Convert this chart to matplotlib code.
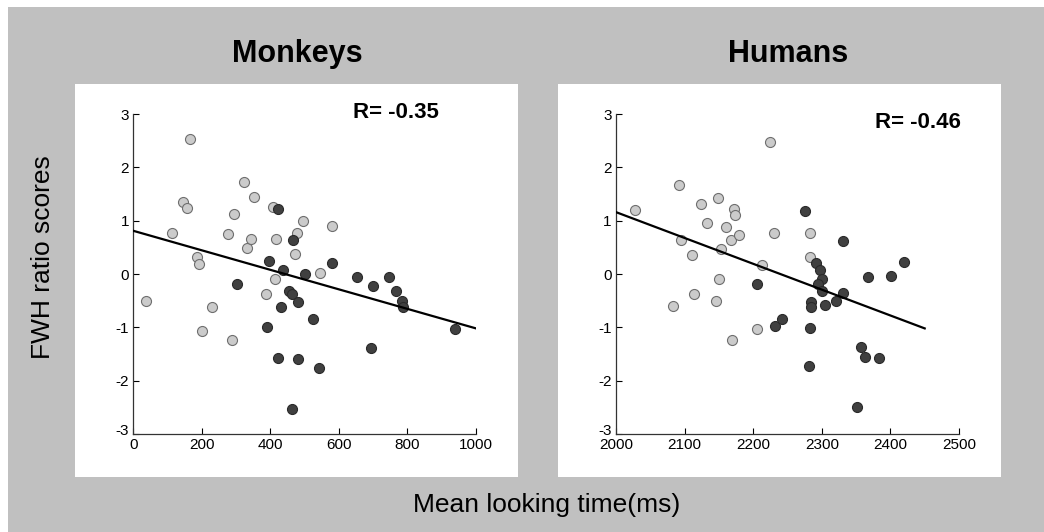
import matplotlib
matplotlib.use("Agg")
import matplotlib.pyplot as plt
from matplotlib.patches import Rectangle
import matplotlib.transforms as mtransforms
import numpy as np

plt.rcParams['font.family'] = ['Liberation Sans', 'DejaVu Sans']
plt.rcParams['axes.unicode_minus'] = False

# ---------------- data ----------------
monkey_light_x = [36, 112, 144, 156, 166, 186, 193, 200, 231, 277, 289, 293, 322, 332, 343,
                  351, 386, 408, 413, 417, 473, 477, 495, 546, 581]
monkey_light_y = [-0.51, 0.77, 1.35, 1.24, 2.54, 0.32, 0.18, -1.06, -0.62, 0.75, -1.24, 1.12,
                  1.72, 0.48, 0.65, 1.45, -0.38, 1.25, -0.09, 0.65, 0.37, 0.77, 1.00, 0.02, 0.90]
monkey_dark_x = [304, 390, 396, 421, 422, 431, 438, 455, 463, 467, 462, 480, 482, 500, 524,
                 541, 581, 653, 693, 700, 747, 767, 784, 786, 939]
monkey_dark_y = [-0.18, -0.99, 0.25, 1.22, -1.57, -0.62, 0.07, -0.31, -0.37, 0.63, -2.53, -0.53,
                 -1.60, 0.00, -0.85, -1.76, 0.21, -0.05, -1.38, -0.22, -0.06, -0.31, -0.51, -0.61,
                 -1.03]
monkey_fit_x = [0, 1000]
monkey_fit_y = [0.81, -1.02]
monkey_r = "R= -0.35"

human_light_x = [2028, 2083, 2092, 2095, 2111, 2114, 2124, 2133, 2146, 2149, 2150, 2153, 2160,
                 2167, 2169, 2172, 2174, 2179, 2205, 2213, 2225, 2231, 2283, 2283]
human_light_y = [1.20, -0.60, 1.66, 0.63, 0.36, -0.38, 1.32, 0.96, -0.51, 1.42, -0.09, 0.47,
                 0.89, 0.63, -1.23, 1.22, 1.11, 0.74, -1.04, 0.17, 2.48, 0.76, 0.76, 0.32]
human_dark_x = [2205, 2232, 2242, 2276, 2281, 2283, 2284, 2284, 2292, 2297, 2300, 2294, 2301,
                2305, 2320, 2331, 2331, 2352, 2357, 2363, 2368, 2383, 2401, 2420]
human_dark_y = [-0.18, -0.97, -0.84, 1.18, -1.73, -1.01, -0.53, -0.62, 0.21, 0.07, -0.09, -0.19,
                -0.31, -0.59, -0.51, -0.36, 0.61, -2.50, -1.37, -1.55, -0.06, -1.58, -0.03, 0.23]
human_fit_x = [2000, 2450]
human_fit_y = [1.16, -1.02]
human_r = "R= -0.46"

titles = ["Monkeys", "Humans"]
y_ticks = [-3, -2, -1, 0, 1, 2, 3]
monkey_xticks = [0, 200, 400, 600, 800, 1000]
human_xticks = [2000, 2100, 2200, 2300, 2400, 2500]
y_label = "FWH ratio scores"
x_label = "Mean looking time(ms)"

# ---------------- figure ----------------
W, H = 1044, 532
fig = plt.figure(figsize=(W / 100, H / 100), dpi=100)
fig.patch.set_facecolor('white')

def fx(px):
    return px / W

def fy(py):
    return 1 - py / H

GRAY = '#c0c0c0'
fig.patches.append(Rectangle((fx(8), 0), 1 - fx(8), fy(7), transform=fig.transFigure,
                             facecolor=GRAY, edgecolor='none', zorder=-10))
for (l, r) in [(75, 518), (558, 1001)]:
    fig.patches.append(Rectangle((fx(l), fy(477)), fx(r - l), (477 - 84) / H,
                                 transform=fig.transFigure, facecolor='white',
                                 edgecolor='none', zorder=-9))

LIGHT = '#cbcbcb'
LIGHT_EDGE = '#6e6e6e'
DARK = '#404040'
DARK_EDGE = '#2a2a2a'

panels = [
    dict(left=133.3, right=476, lx=monkey_light_x, ly=monkey_light_y, dx=monkey_dark_x,
         dy=monkey_dark_y, fx_=monkey_fit_x, fy_=monkey_fit_y, xt=monkey_xticks,
         xlim=(0, 1000), r=monkey_r, rpos=(353, 118), title=titles[0], tx=297),
    dict(left=616, right=959, lx=human_light_x, ly=human_light_y, dx=human_dark_x,
         dy=human_dark_y, fx_=human_fit_x, fy_=human_fit_y, xt=human_xticks,
         xlim=(2000, 2500), r=human_r, rpos=(875, 128), title=titles[1], tx=788),
]

top_px, bot_px = 114, 434
for p in panels:
    ax = fig.add_axes([fx(p['left']), fy(bot_px), fx(p['right'] - p['left']),
                       (bot_px - top_px) / H])
    ax.set_facecolor('none')
    ax.scatter(p['lx'], p['ly'], s=52, facecolor=LIGHT, edgecolor=LIGHT_EDGE,
               linewidth=0.8, zorder=3)
    ax.scatter(p['dx'], p['dy'], s=52, facecolor=DARK, edgecolor=DARK_EDGE,
               linewidth=0.8, zorder=3)
    ax.plot(p['fx_'], p['fy_'], color='black', lw=1.6, zorder=4)
    ax.set_xlim(*p['xlim'])
    ax.set_ylim(-3, 3)
    ax.set_xticks(p['xt'])
    ax.set_yticks(y_ticks)
    ax.tick_params(direction='in', length=4, width=0.8, labelsize=11, pad=3,
                   colors='black')
    for s in ['top', 'right']:
        ax.spines[s].set_visible(False)
    for s in ['left', 'bottom']:
        ax.spines[s].set_color('#333333')
        ax.spines[s].set_linewidth(0.9)
    # raise the bottom y tick label slightly (as in the reference)
    fig.canvas.draw()
    lab = ax.get_yticklabels()[0]
    lab.set_transform(lab.get_transform() +
                      mtransforms.ScaledTranslation(0, 3 / 72, fig.dpi_scale_trans))
    fig.text(fx(p['rpos'][0]), fy(p['rpos'][1]), p['r'], fontsize=16, fontweight='bold',
             ha='left', va='baseline')
    fig.text(fx(p['tx']), fy(62), p['title'], fontsize=22, fontweight='bold',
             ha='center', va='baseline')

fig.text(fx(43), fy(257), y_label, fontsize=19, rotation=90, ha='center', va='center')
fig.text(fx(547), fy(512), x_label, fontsize=19, ha='center', va='baseline')

fig.savefig('out.png', dpi=100, facecolor=fig.get_facecolor())
